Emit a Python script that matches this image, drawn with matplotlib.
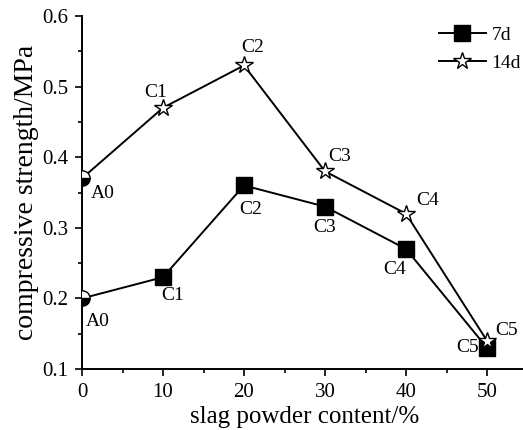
import matplotlib
matplotlib.use('Agg')
import matplotlib.pyplot as plt
from matplotlib.ticker import MultipleLocator

plt.rcParams['font.family'] = ['Liberation Serif', 'DejaVu Serif']

content = [0, 10, 20, 30, 40, 50]
strength_7d = [0.20, 0.23, 0.36, 0.33, 0.27, 0.13]
strength_14d = [0.37, 0.47, 0.53, 0.38, 0.32, 0.14]
point_names = ['A0', 'C1', 'C2', 'C3', 'C4', 'C5']

# label offsets in pixels (dx, dy), y up
offsets_7d = [(16, -23), (10, -18), (7, -24), (0, -21), (-11, -21), (-19, 0)]
offsets_14d = [(21, -15), (-7, 15), (9, 18), (15, 15), (22, 13), (20, 10)]

fig = plt.figure(figsize=(5.23, 4.30), dpi=100)
ax = fig.add_axes([82 / 523, 61 / 430, 445.5 / 523, 353 / 430])

# lines with markers
l7, = ax.plot(content[1:], strength_7d[1:], color='black', lw=1.4,
              marker='s', ms=11, mfc='black', mec='black', label='7d', zorder=3)
l14, = ax.plot(content[1:], strength_14d[1:], color='black', lw=1.4,
               marker='*', ms=13, mfc='white', mec='black', mew=1.0, label='14d', zorder=3)
ax.plot(content[:2], strength_7d[:2], color='black', lw=1.4, zorder=2)
ax.plot(content[:2], strength_14d[:2], color='black', lw=1.4, zorder=2)

# reference points A0 drawn as half filled circles
ax.plot(content[:1], strength_7d[:1], ls='none', marker='o', ms=11, fillstyle='bottom',
        mfc='black', mfcalt='white', mec='black', mew=1.0, zorder=4)
ax.plot(content[:1], strength_14d[:1], ls='none', marker='o', ms=11, fillstyle='bottom',
        mfc='black', mfcalt='white', mec='black', mew=1.0, zorder=4)

for x, y, name, off in zip(content, strength_7d, point_names, offsets_7d):
    ax.annotate(name, (x, y), xytext=off, textcoords='offset pixels',
                ha='center', va='center', fontsize=14)
for x, y, name, off in zip(content, strength_14d, point_names, offsets_14d):
    ax.annotate(name, (x, y), xytext=off, textcoords='offset pixels',
                ha='center', va='center', fontsize=14)

ax.set_xlim(0, 55)
ax.set_ylim(0.1, 0.6)
ax.xaxis.set_major_locator(MultipleLocator(10))
ax.xaxis.set_minor_locator(MultipleLocator(5))
ax.yaxis.set_major_locator(MultipleLocator(0.1))
ax.yaxis.set_minor_locator(MultipleLocator(0.05))
ax.yaxis.set_major_formatter(plt.FuncFormatter(lambda v, p: f'{v:.1f}'))

for s in ['top', 'right']:
    ax.spines[s].set_visible(False)
for s in ['left', 'bottom']:
    ax.spines[s].set_linewidth(1.4)

ax.tick_params(which='major', direction='out', length=5, width=1.2, labelsize=15, pad=5)
ax.tick_params(which='minor', direction='out', length=3, width=1.2)

ax.set_xlabel('slag powder content/%', fontsize=18, labelpad=3)
ax.set_ylabel('compressive strength/MPa', fontsize=20, labelpad=2)

ax.legend(handles=[l7, l14], loc='upper left', bbox_to_anchor=(439 / 523, 404 / 430),
          bbox_transform=fig.transFigure, frameon=False, fontsize=14,
          handlelength=2.4, handletextpad=0.3, labelspacing=0.55,
          borderpad=0, borderaxespad=0)

fig.savefig('out.png', dpi=100)
